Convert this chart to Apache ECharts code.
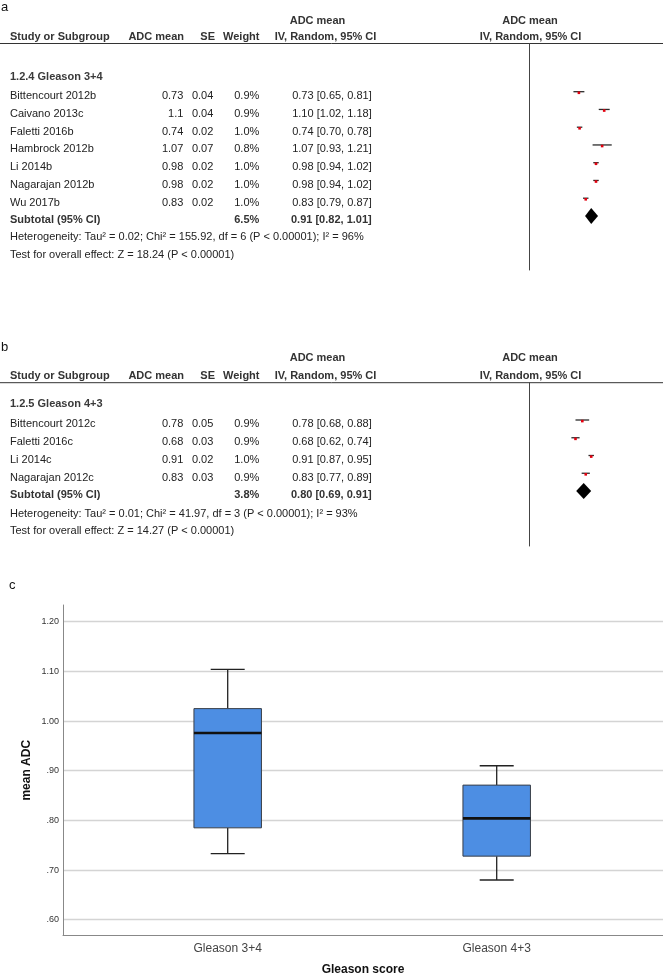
<!DOCTYPE html>
<html>
<head>
<meta charset="utf-8">
<script src="https://cdn.jsdelivr.net/npm/echarts@6/dist/echarts.min.js"></script>
<style>
html, body { margin: 0; padding: 0; background: #fff; }
#main { width: 663px; height: 978px; }
</style>
</head>
<body>
<div id="main"></div>
<script>
// ---- panel a: Gleason 3+4 ----
var studiesA = ['Bittencourt 2012b', 'Caivano 2013c', 'Faletti 2016b', 'Hambrock 2012b', 'Li 2014b', 'Nagarajan 2012b', 'Wu 2017b'];
var meanA = [0.73, 1.1, 0.74, 1.07, 0.98, 0.98, 0.83];
var seA = [0.04, 0.04, 0.02, 0.07, 0.02, 0.02, 0.02];
var weightA = [0.9, 0.9, 1.0, 0.8, 1.0, 1.0, 1.0];
var lowA = [0.65, 1.02, 0.70, 0.93, 0.94, 0.94, 0.79];
var highA = [0.81, 1.18, 0.78, 1.21, 1.02, 1.02, 0.87];
var subtotalA = [0.91, 0.82, 1.01];   // mean, low, high
var subWeightA = 6.5;
var statsA = { tau2: '0.02', chi2: '155.92', df: 6, i2: 96, z: '18.24' };

// ---- panel b: Gleason 4+3 ----
var studiesB = ['Bittencourt 2012c', 'Faletti 2016c', 'Li 2014c', 'Nagarajan 2012c'];
var meanB = [0.78, 0.68, 0.91, 0.83];
var seB = [0.05, 0.03, 0.02, 0.03];
var weightB = [0.9, 0.9, 1.0, 0.9];
var lowB = [0.68, 0.62, 0.87, 0.77];
var highB = [0.88, 0.74, 0.95, 0.89];
var subtotalB = [0.80, 0.69, 0.91];
var subWeightB = 3.8;
var statsB = { tau2: '0.01', chi2: '41.97', df: 3, i2: 93, z: '14.27' };

// ---- panel c: box plot ----
var boxCats = ['Gleason 3+4', 'Gleason 4+3'];
var boxMin = [0.733, 0.680];
var boxQ1 = [0.785, 0.728];
var boxMed = [0.976, 0.804];
var boxQ3 = [1.025, 0.871];
var boxMax = [1.104, 0.910];

var FONT = '"Liberation Sans", Arial, Helvetica, sans-serif';
var ROW = 17.75;

function txt(x, y, s, align, bold, size, color) {
  return {
    type: 'text', x: x, y: y, silent: true,
    style: {
      text: s, align: align || 'left', textAlign: align || 'left',
      verticalAlign: 'middle', textVerticalAlign: 'middle',
      fill: color || '#222', font: (bold ? 'bold ' : '') + (size || 11) + 'px ' + FONT
    }
  };
}
function hline(x1, x2, y, color) {
  return { type: 'line', silent: true, shape: { x1: x1, y1: y, x2: x2, y2: y }, style: { stroke: color || '#333', lineWidth: 1 } };
}

// layout of the two forest panels
var panels = [
  { letterY: 7, h1: 20.7, h2: 37.3, rule: 43.5, group: 76.7, markTop: 91.7, bottom: 270, het: 236.7, test: 255,
    title: '1.2.4 Gleason 3+4', names: studiesA, mean: meanA, se: seA, w: weightA, lo: lowA, hi: highA,
    sub: subtotalA, subW: subWeightA, st: statsA, letter: 'a' },
  { letterY: 347.7, h1: 358.3, h2: 376, rule: 382.7, group: 404.3, markTop: 420, bottom: 546, het: 514, test: 530.7,
    title: '1.2.5 Gleason 4+3', names: studiesB, mean: meanB, se: seB, w: weightB, lo: lowB, hi: highB,
    sub: subtotalB, subW: subWeightB, st: statsB, letter: 'b' }
];

var graphics = [];
var grids = [], xAxes = [], yAxes = [], series = [];

function ciItem(params, api) {
  var r = api.value(1);
  var a = api.coord([api.value(0), r]);
  var b = api.coord([api.value(2), r]);
  var m = api.coord([api.value(3), r]);
  return { type: 'group', children: [
    { type: 'line', shape: { x1: a[0], y1: a[1], x2: b[0], y2: b[1] }, style: { stroke: '#2b2b2b', lineWidth: 1.3 } },
    { type: 'rect', shape: { x: m[0] - 1.3, y: m[1] - 0.2, width: 2.6, height: 2.6 }, style: { fill: '#e3000f' } }
  ] };
}
function diamondItem(params, api) {
  var r = api.value(1);
  var a = api.coord([api.value(0), r]);
  var b = api.coord([api.value(2), r]);
  var m = api.coord([api.value(3), r]);
  return { type: 'polygon', shape: { points: [[a[0], m[1]], [m[0], m[1] - 8], [b[0], m[1]], [m[0], m[1] + 8]] }, style: { fill: '#000' } };
}

panels.forEach(function (p, k) {
  var n = p.names.length;
  graphics.push(txt(k === 0 ? 1 : 1, p.letterY, p.letter, 'left', false, 13, '#111'));
  graphics.push(txt(317.5, p.h1, 'ADC mean', 'center', true, 11, '#333'));
  graphics.push(txt(530, p.h1, 'ADC mean', 'center', true, 11, '#333'));
  graphics.push(txt(10, p.h2, 'Study or Subgroup', 'left', true, 11, '#333'));
  graphics.push(txt(184, p.h2, 'ADC mean', 'right', true, 11, '#333'));
  graphics.push(txt(215, p.h2, 'SE', 'right', true, 11, '#333'));
  graphics.push(txt(259.5, p.h2, 'Weight', 'right', true, 11, '#333'));
  graphics.push(txt(325.5, p.h2, 'IV, Random, 95% CI', 'center', true, 11, '#333'));
  graphics.push(txt(530.5, p.h2, 'IV, Random, 95% CI', 'center', true, 11, '#333'));
  graphics.push(hline(0, 663, p.rule, '#333'));
  graphics.push(txt(10, p.group, p.title, 'left', true, 11, '#3a3a3a'));
  for (var i = 0; i < n; i++) {
    var ty = p.markTop + i * ROW + 4.3;
    graphics.push(txt(10, ty, p.names[i], 'left'));
    graphics.push(txt(183.3, ty, String(p.mean[i]), 'right'));
    graphics.push(txt(213.3, ty, String(p.se[i]), 'right'));
    graphics.push(txt(259.3, ty, p.w[i].toFixed(1) + '%', 'right'));
    graphics.push(txt(371.7, ty, p.mean[i].toFixed(2) + ' [' + p.lo[i].toFixed(2) + ', ' + p.hi[i].toFixed(2) + ']', 'right'));
  }
  var sy = p.markTop + n * ROW + 4.3;
  graphics.push(txt(10, sy, 'Subtotal (95% CI)', 'left', true, 11, '#333'));
  graphics.push(txt(259.3, sy, p.subW.toFixed(1) + '%', 'right', true, 11, '#333'));
  graphics.push(txt(371.7, sy, p.sub[0].toFixed(2) + ' [' + p.sub[1].toFixed(2) + ', ' + p.sub[2].toFixed(2) + ']', 'right', true, 11, '#333'));
  graphics.push(txt(10, p.het, 'Heterogeneity: Tau\u00b2 = ' + p.st.tau2 + '; Chi\u00b2 = ' + p.st.chi2 + ', df = ' + p.st.df + ' (P < 0.00001); I\u00b2 = ' + p.st.i2 + '%', 'left'));
  graphics.push(txt(10, p.test, 'Test for overall effect: Z = ' + p.st.z + ' (P < 0.00001)', 'left'));

  // forest plot grid: x = effect, y = row index
  var yMin = -(p.markTop - p.rule) / ROW;
  var yMax = yMin + (p.bottom - p.rule) / ROW;
  grids.push({ left: 529, right: 0, top: p.rule, height: p.bottom - p.rule, containLabel: false, outerBoundsMode: 'none' });
  xAxes.push({ type: 'value', gridIndex: k, min: 0, max: 1.96, show: false });
  yAxes.push({ type: 'value', gridIndex: k, inverse: true, min: yMin, max: yMax,
    axisLine: { show: true, onZero: false, lineStyle: { color: '#444', width: 1 } },
    axisTick: { show: false }, axisLabel: { show: false }, splitLine: { show: false } });
  var rows = [];
  for (var j = 0; j < n; j++) rows.push([p.lo[j], j, p.hi[j], p.mean[j]]);
  series.push({ type: 'custom', xAxisIndex: k, yAxisIndex: k, renderItem: ciItem, encode: { x: [0, 2, 3], y: 1 }, data: rows, silent: true });
  series.push({ type: 'custom', xAxisIndex: k, yAxisIndex: k, renderItem: diamondItem, encode: { x: [0, 2, 3], y: 1 },
    data: [[p.sub[1], n, p.sub[2], p.sub[0]]], silent: true });
});

// ---- box plot (panel c) ----
var Y120 = 621.7, PPU = 496.7;
function yPix(v) { return Y120 + (1.2 - v) * PPU; }
function yVal(px) { return 1.2 - (px - Y120) / PPU; }
var frameTop = 605, frameBottom = 935.5;

graphics.push(txt(9, 585, 'c', 'left', false, 13, '#111'));

// background grid: gridlines and tick labels
grids.push({ left: 63, right: 0, top: yPix(1.3), height: yPix(0.5) - yPix(1.3), containLabel: false, outerBoundsMode: 'none' });
xAxes.push({ type: 'value', gridIndex: 2, min: 0, max: 1, show: false });
yAxes.push({ type: 'value', gridIndex: 2, min: 0.5, max: 1.3, interval: 0.1,
  axisLine: { show: false }, axisTick: { show: false },
  axisLabel: { showMinLabel: false, showMaxLabel: false, margin: 4, fontSize: 9, color: '#333', fontFamily: FONT,
    formatter: function (v) { var s = v.toFixed(2); return v < 1 ? s.slice(1) : s; } },
  splitLine: { show: true, showMinLine: false, showMaxLine: false, lineStyle: { color: '#d4d4d4', width: 1.3 } } });

// frame grid: axis lines and names
grids.push({ left: 63, right: 0, top: frameTop, height: frameBottom - frameTop, containLabel: false, outerBoundsMode: 'none' });
xAxes.push({ type: 'value', gridIndex: 3, min: 0, max: 1,
  name: 'Gleason score', nameLocation: 'middle', nameGap: 28,
  nameTextStyle: { fontWeight: 'bold', fontSize: 12, color: '#111', fontFamily: FONT },
  axisLine: { show: true, onZero: false, lineStyle: { color: '#888', width: 1 } },
  axisTick: { show: false }, axisLabel: { show: false }, splitLine: { show: false } });
yAxes.push({ type: 'value', gridIndex: 3, min: yVal(frameBottom), max: yVal(frameTop),
  name: 'mean ADC', nameLocation: 'middle', nameGap: 30,
  nameTextStyle: { fontWeight: 'bold', fontSize: 12, color: '#111', fontFamily: FONT },
  axisLine: { show: true, onZero: false, lineStyle: { color: '#888', width: 1 } },
  axisTick: { show: false }, axisLabel: { show: false }, splitLine: { show: false } });

// box grid
grids.push({ left: 93.2, right: 31.8, top: frameTop, height: frameBottom - frameTop, containLabel: false, outerBoundsMode: 'none' });
xAxes.push({ type: 'category', gridIndex: 4, data: boxCats, boundaryGap: true,
  axisLine: { show: false }, axisTick: { show: false },
  axisLabel: { margin: 7, fontSize: 12, color: '#444', fontFamily: FONT } });
yAxes.push({ type: 'value', gridIndex: 4, min: yVal(frameBottom), max: yVal(frameTop), show: false });

var boxData = boxCats.map(function (c, i) { return [i, boxMin[i], boxQ1[i], boxMed[i], boxQ3[i], boxMax[i]]; });
series.push({
  type: 'custom', xAxisIndex: 4, yAxisIndex: 4, silent: true,
  encode: { x: 0, y: [1, 2, 3, 4, 5] },
  data: boxData,
  renderItem: function (params, api) {
    var c = api.value(0);
    var pMin = api.coord([c, api.value(1)]);
    var pQ1 = api.coord([c, api.value(2)]);
    var pMed = api.coord([c, api.value(3)]);
    var pQ3 = api.coord([c, api.value(4)]);
    var pMax = api.coord([c, api.value(5)]);
    var cx = pMin[0], bw = 67.5, cw = 34;
    var ws = { stroke: '#222', lineWidth: 1.3 };
    return { type: 'group', children: [
      { type: 'line', shape: { x1: cx, y1: pQ3[1], x2: cx, y2: pMax[1] }, style: ws },
      { type: 'line', shape: { x1: cx - cw / 2, y1: pMax[1], x2: cx + cw / 2, y2: pMax[1] }, style: ws },
      { type: 'line', shape: { x1: cx, y1: pQ1[1], x2: cx, y2: pMin[1] }, style: ws },
      { type: 'line', shape: { x1: cx - cw / 2, y1: pMin[1], x2: cx + cw / 2, y2: pMin[1] }, style: ws },
      { type: 'rect', shape: { x: cx - bw / 2, y: pQ3[1], width: bw, height: pQ1[1] - pQ3[1] },
        style: { fill: '#4d8ee3', stroke: '#3a3f47', lineWidth: 1 } },
      { type: 'line', shape: { x1: cx - bw / 2, y1: pMed[1], x2: cx + bw / 2, y2: pMed[1] }, style: { stroke: '#111', lineWidth: 2.6 } }
    ] };
  }
});

var chart = echarts.init(document.getElementById('main'));
chart.setOption({
  animation: false,
  backgroundColor: '#fff',
  textStyle: { fontFamily: FONT },
  grid: grids,
  xAxis: xAxes,
  yAxis: yAxes,
  series: series,
  graphic: graphics
});
</script>
</body>
</html>
